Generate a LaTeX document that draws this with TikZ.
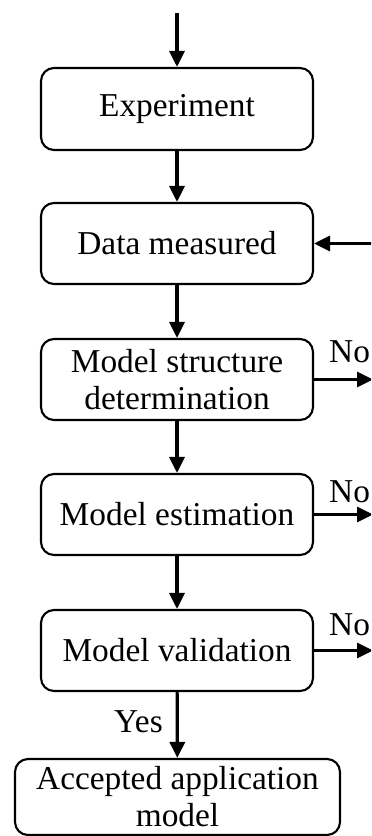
\documentclass[tikz,border=0pt]{standalone}
\usepackage{fontspec}
\setmainfont{Liberation Serif}
\usetikzlibrary{arrows.meta}
\begin{document}
\begin{tikzpicture}[x=1bp,y=-1bp,
  box/.style={draw, line width=2.1bp, rounded corners=13bp, minimum width=272bp,
    align=center, font=\fontsize{33.5}{37}\selectfont, inner sep=0pt},
  conn/.style={line width=3.2bp, -{Triangle[length=16bp,width=15bp]}},
  lbl/.style={font=\fontsize{33.5}{37}\selectfont, inner sep=0pt}]
\useasboundingbox (0,0) rectangle (371,836);
\clip (0,0) rectangle (371,836);
\node[box, minimum height=82bp] (exp) at (177,109) {Experiment};
\node[box, minimum height=81bp] (dat) at (177,243.5) {Data measured};
\node[box, minimum height=81bp] (str) at (177,379.5) {Model structure\\determination};
\node[box, minimum height=81bp] (est) at (177,514.5) {Model estimation};
\node[box, minimum height=81bp] (val) at (177,650.5) {Model validation};
\node[box, minimum height=76bp, minimum width=325bp] (acc) at (177.5,797) {Accepted application\\model};

\coordinate (top) at (177,13);
\coordinate (datin) at (372,243.5);
\coordinate (strout) at (373,379.5);
\coordinate (estout) at (373,514.5);
\coordinate (valout) at (373,650.5);

\draw[conn] (top) -- (exp);
\draw[conn] (exp) -- (dat);
\draw[conn] (datin) -- (dat);
\draw[conn] (dat) -- (str);
\draw[conn] (str) -- (est);
\draw[conn] (est) -- (val);
\draw[conn] (val) -- (acc);
\draw[conn] (str) -- (strout);
\draw[conn] (est) -- (estout);
\draw[conn] (val) -- (valout);

\node[lbl, anchor=base west] (no1) at (329,362) {No};
\node[lbl, anchor=base west] (no2) at (329,502) {No};
\node[lbl, anchor=base west] (no3) at (329,635) {No};
\node[lbl, anchor=base west] (yes) at (114,732) {Yes};
\end{tikzpicture}
\end{document}
